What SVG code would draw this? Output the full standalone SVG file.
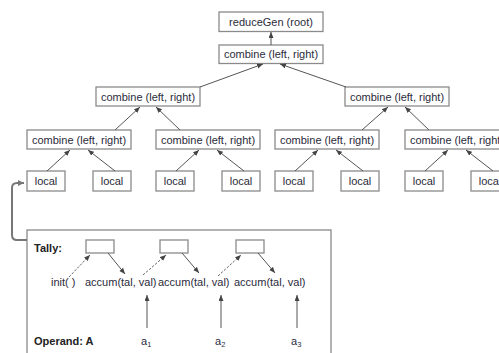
<svg xmlns="http://www.w3.org/2000/svg" width="499" height="353" viewBox="0 0 499 353">
<defs>
<marker id="ah" markerUnits="userSpaceOnUse" markerWidth="7" markerHeight="6" refX="6" refY="2.5" orient="auto">
<path d="M0,0 L6,2.5 L0,5 z" fill="#444"/>
</marker>
<marker id="ahg" markerUnits="userSpaceOnUse" markerWidth="8" markerHeight="7" refX="6" refY="3" orient="auto">
<path d="M0,0 L6,3 L0,6 z" fill="#777"/>
</marker>
<style>
.box{fill:#fff;stroke:#8a8a8a;stroke-width:1.3}
.t{font-family:"Liberation Sans",Arial,sans-serif;font-size:11px;fill:#2b2b3b;text-anchor:middle}
.tl{font-family:"Liberation Sans",Arial,sans-serif;font-size:11px;fill:#2b2b3b}
.b{font-weight:bold;fill:#222}
.e{stroke:#555;stroke-width:1;fill:none;marker-end:url(#ah)}
.d{stroke:#666;stroke-width:1;fill:none;stroke-dasharray:2.5,1.5;marker-end:url(#ah)}
</style>
</defs>
<rect width="499" height="353" fill="#fff"/>

<g id="root"><rect class="box" x="219" y="12" width="104" height="19.5"/><text class="t" x="271" y="25.5">reduceGen (root)</text></g>
<g id="c1"><rect class="box" x="219" y="45" width="104" height="18.5"/><text class="t" x="271" y="58">combine (left, right)</text></g>
<g id="c2a"><rect class="box" x="96" y="87" width="104" height="19"/><text class="t" x="148" y="100.5">combine (left, right)</text></g>
<g id="c2b"><rect class="box" x="345" y="87" width="104" height="19"/><text class="t" x="397" y="100.5">combine (left, right)</text></g>
<g id="c3a"><rect class="box" x="27" y="130" width="104" height="19"/><text class="t" x="79" y="143.5">combine (left, right)</text></g>
<g id="c3b"><rect class="box" x="156" y="130" width="104" height="19"/><text class="t" x="208" y="143.5">combine (left, right)</text></g>
<g id="c3c"><rect class="box" x="275" y="130" width="104" height="19"/><text class="t" x="327" y="143.5">combine (left, right)</text></g>
<g id="c3d"><rect class="box" x="405" y="130" width="104" height="19"/><text class="t" x="457" y="143.5">combine (left, right)</text></g>

<g id="l1"><rect class="box" x="27" y="171" width="38" height="20"/><text class="t" x="46" y="185">local</text></g>
<g id="l2"><rect class="box" x="93" y="171" width="38" height="20"/><text class="t" x="112" y="185">local</text></g>
<g id="l3"><rect class="box" x="156" y="171" width="38" height="20"/><text class="t" x="175" y="185">local</text></g>
<g id="l4"><rect class="box" x="222" y="171" width="38" height="20"/><text class="t" x="241" y="185">local</text></g>
<g id="l5"><rect class="box" x="275" y="171" width="38" height="20"/><text class="t" x="294" y="185">local</text></g>
<g id="l6"><rect class="box" x="341" y="171" width="38" height="20"/><text class="t" x="360" y="185">local</text></g>
<g id="l7"><rect class="box" x="405" y="171" width="38" height="20"/><text class="t" x="424" y="185">local</text></g>
<g id="l8"><rect class="box" x="471" y="171" width="38" height="20"/><text class="t" x="490" y="185">local</text></g>

<g id="tally">
<rect class="box" x="27" y="230" width="304" height="140"/>
<text class="tl b" x="34" y="252">Tally:</text>
<rect class="box" x="86" y="240" width="28" height="13"/>
<rect class="box" x="160" y="240" width="28" height="13"/>
<rect class="box" x="236" y="240" width="28" height="13"/>
<text class="tl" x="51" y="286">init( )</text>
<text class="tl" x="85" y="286">accum(tal, val)</text>
<text class="tl" x="158" y="286">accum(tal, val)</text>
<text class="tl" x="234" y="286">accum(tal, val)</text>
<text class="tl b" x="34" y="345">Operand: A</text>
<text class="tl" x="141" y="345">a<tspan font-size="7.5" dy="2">1</tspan></text>
<text class="tl" x="215" y="345">a<tspan font-size="7.5" dy="2">2</tspan></text>
<text class="tl" x="291" y="345">a<tspan font-size="7.5" dy="2">3</tspan></text>
<path class="d" d="M69,277 L90,255"/>
<path class="d" d="M143,275 L166,255"/>
<path class="d" d="M218,276 L241,255"/>
<path class="e" d="M108,253 L125,274"/>
<path class="e" d="M182,253 L199,273"/>
<path class="e" d="M258,253 L275,273"/>
<path class="e" d="M147,328 L147,295"/>
<path class="e" d="M221,328 L221,295"/>
<path class="e" d="M297,328 L297,295"/>
</g>

<g id="connectors">
<path class="e" d="M271,45 L271,32"/>
<path class="e" d="M200,87 L263,64"/>
<path class="e" d="M346,87 L280,64"/>
<path class="e" d="M115,130 L140,107"/>
<path class="e" d="M180,130 L156,107"/>
<path class="e" d="M362,130 L388,107"/>
<path class="e" d="M429,130 L405,107"/>
<path class="e" d="M47,171 L70,150"/>
<path class="e" d="M115,171 L88,150"/>
<path class="e" d="M176,171 L199,150"/>
<path class="e" d="M244,171 L217,150"/>
<path class="e" d="M295,171 L318,150"/>
<path class="e" d="M363,171 L336,150"/>
<path class="e" d="M425,171 L448,150"/>
<path class="e" d="M493,171 L466,150"/>
<path d="M27,240 H17 Q12,240 12,235 V188 Q12,183 17,183 H24" fill="none" stroke="#777" stroke-width="2" marker-end="url(#ahg)"/>
</g>
</svg>
